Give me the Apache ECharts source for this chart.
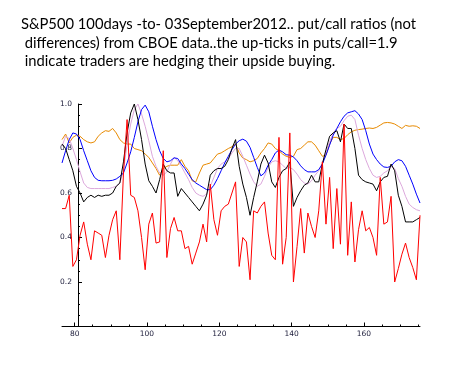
<!DOCTYPE html>
<html><head><meta charset="utf-8">
<script src="https://cdn.jsdelivr.net/npm/echarts@6/dist/echarts.min.js"></script>
<style>html,body{margin:0;padding:0;background:#fff}#c{width:453px;height:365px}</style>
</head><body><div id="c"></div>
<script>
const titleText = "S&P500 100days -to- 03September2012.. put/call ratios (not\n differences) from CBOE data..the up-ticks in puts/call=1.9\n indicate traders are hedging their upside buying.";
const firstDay = 76.5;
const lastDay = 175.5;
const xLabelDays = [80, 100, 120, 140, 160];
const xMinorDays = [85, 90, 95, 105, 110, 115, 125, 130, 135, 145, 150, 155, 165, 170, 175];

const red = [0.53,0.53,0.59,0.27,0.30,0.41,0.47,0.37,0.30,0.43,0.42,0.41,0.31,0.41,0.48,0.52,0.30,0.69,0.93,0.59,0.58,
  0.52,0.40,0.255,0.46,0.51,0.375,0.38,0.79,0.31,0.44,0.49,0.43,0.43,0.35,0.36,0.28,0.33,0.38,0.46,
  0.38,0.64,0.48,0.41,0.52,0.54,0.55,0.60,0.65,0.27,0.40,0.38,0.21,0.52,0.51,0.54,0.56,0.42,0.32,0.30,0.85,0.28,0.40,
  0.87,0.20,0.36,0.53,0.33,0.51,0.45,0.40,0.52,0.74,0.46,0.67,0.35,0.62,0.37,0.91,0.32,0.56,0.29,
  0.435,0.52,0.43,0.445,0.40,0.32,0.67,0.46,0.47,0.585,0.20,0.26,0.325,0.375,0.31,0.265,0.21,0.50];

const black = [0.82,0.80,0.75,0.70,0.63,0.60,0.56,0.58,0.59,0.58,0.59,0.585,0.59,0.59,0.60,0.63,0.645,0.74,0.87,0.96,
  1.0,0.93,0.84,0.73,0.655,0.63,0.60,0.66,0.73,0.70,0.69,0.69,0.585,0.62,0.60,0.58,0.56,0.54,0.52,0.55,
  0.59,0.68,0.70,0.71,0.71,0.72,0.75,0.80,0.84,0.72,0.64,0.58,0.50,0.58,0.65,0.73,0.77,0.735,0.65,0.625,
  0.67,0.70,0.71,0.74,0.54,0.58,0.61,0.635,0.645,0.68,0.65,0.65,0.73,0.795,0.855,0.87,0.88,0.83,0.91,0.89,
  0.89,0.80,0.68,0.66,0.65,0.645,0.64,0.61,0.65,0.67,0.675,0.73,0.70,0.59,0.54,0.47,0.47,0.47,0.48,0.49];

const pink = [0.81,0.855,0.845,0.80,0.75,0.695,0.645,0.625,0.62,0.62,0.62,0.62,0.62,0.62,0.625,0.63,0.645,0.70,0.82,0.91,
  0.975,1.0,0.955,0.90,0.835,0.765,0.72,0.69,0.68,0.695,0.73,0.76,0.745,0.72,0.69,0.66,0.625,0.60,0.59,0.585,
  0.595,0.63,0.67,0.71,0.73,0.74,0.755,0.78,0.80,0.80,0.765,0.725,0.685,0.65,0.63,0.64,0.675,0.715,0.74,0.745,
  0.74,0.725,0.71,0.715,0.705,0.685,0.66,0.645,0.64,0.655,0.68,0.70,0.735,0.785,0.83,0.87,0.89,0.90,0.925,0.945,
  0.95,0.93,0.86,0.80,0.75,0.71,0.68,0.67,0.675,0.69,0.70,0.72,0.71,0.665,0.63,0.585,0.55,0.535,0.525,0.52];

const blue = [0.735,0.79,0.84,0.87,0.865,0.84,0.79,0.745,0.70,0.67,0.657,0.655,0.655,0.655,0.657,0.663,0.675,0.69,0.735,0.785,
  0.85,0.92,0.975,0.995,0.965,0.90,0.84,0.79,0.755,0.74,0.745,0.758,0.755,0.73,0.71,0.685,0.66,0.645,0.635,0.625,
  0.615,0.615,0.635,0.665,0.70,0.735,0.765,0.795,0.82,0.835,0.842,0.833,0.805,0.76,0.715,0.677,0.69,0.725,0.75,0.78,
  0.793,0.785,0.772,0.77,0.762,0.745,0.722,0.705,0.695,0.695,0.695,0.705,0.73,0.77,0.815,0.86,0.89,0.92,0.945,0.96,
  0.965,0.97,0.955,0.93,0.88,0.82,0.775,0.75,0.73,0.717,0.715,0.72,0.74,0.75,0.745,0.72,0.68,0.64,0.595,0.555];

const orange = [0.84,0.865,0.825,0.85,0.86,0.855,0.84,0.83,0.825,0.83,0.855,0.87,0.88,0.877,0.89,0.87,0.84,0.825,0.82,0.82,
  0.80,0.795,0.79,0.775,0.76,0.735,0.71,0.68,0.71,0.72,0.725,0.725,0.725,0.75,0.72,0.70,0.655,0.65,0.69,0.725,
  0.73,0.735,0.755,0.775,0.78,0.79,0.80,0.808,0.82,0.78,0.757,0.75,0.74,0.745,0.755,0.78,0.80,0.825,0.82,0.80,
  0.79,0.775,0.765,0.76,0.765,0.795,0.80,0.815,0.83,0.83,0.815,0.79,0.765,0.77,0.82,0.85,0.85,0.84,0.845,0.862,
  0.875,0.882,0.885,0.887,0.89,0.892,0.89,0.895,0.905,0.915,0.917,0.915,0.91,0.90,0.89,0.904,0.90,0.902,0.90,0.89];

const days = red.map((_, i) => firstDay + i);
const pairs = arr => arr.map((v, i) => [days[i], v]);

const chart = echarts.init(document.getElementById('c'), null, {renderer: 'canvas'});
const labelFont = {fontFamily: 'DejaVu Sans', fontSize: 7.5, color: '#1c1c3a'};
const mk = (name, data, color) => ({
  name, type: 'line', data: pairs(data), showSymbol: false, symbol: 'none',
  xAxisIndex: 0, yAxisIndex: 0, silent: true,
  lineStyle: {color, width: 1}, z: 2
});
chart.setOption({
  animation: false,
  backgroundColor: '#fff',
  title: {
    text: titleText, left: 16, top: 10,
    textStyle: {fontFamily: 'Lato', fontSize: 14.75, fontWeight: 'normal', color: '#000', lineHeight: 18.5}
  },
  grid: [
    {left: 62, top: 104, width: 358, height: 222.5},
    {left: 78, top: 104, width: 10, height: 222.5}
  ],
  xAxis: [
    {type: 'value', gridIndex: 0, min: firstDay, max: lastDay, position: 'bottom',
     axisLine: {show: true, lineStyle: {color: '#000', width: 1}},
     axisTick: {show: true, inside: true, length: 4, customValues: xLabelDays, lineStyle: {color: '#000'}},
     axisLabel: Object.assign({show: true, customValues: xLabelDays, margin: 4}, labelFont),
     splitLine: {show: false}},
    {type: 'value', gridIndex: 0, min: firstDay, max: lastDay, position: 'bottom',
     axisLine: {show: false},
     axisTick: {show: true, inside: true, length: 2, customValues: xMinorDays, lineStyle: {color: '#000'}},
     axisLabel: {show: false}, splitLine: {show: false}},
    {type: 'value', gridIndex: 1, min: 0, max: 1, show: false}
  ],
  yAxis: [
    {type: 'value', gridIndex: 0, min: 0, max: 1, show: false},
    {type: 'value', gridIndex: 1, min: 0, max: 1, interval: 0.2, position: 'left',
     axisLine: {show: true, lineStyle: {color: '#000', width: 1}},
     axisTick: {show: true, inside: true, length: 4, lineStyle: {color: '#000'}},
     minorTick: {show: true, splitNumber: 4, length: 2, lineStyle: {color: '#000'}},
     axisLabel: Object.assign({show: true, margin: 6, showMinLabel: false, formatter: v => v.toFixed(1)}, labelFont),
     splitLine: {show: false}}
  ],
  series: [
    mk('orange', orange, '#e88a00'),
    mk('pink', pink, '#dca8dc'),
    mk('blue', blue, '#0000ff'),
    mk('black', black, '#000000'),
    mk('red', red, '#ff0000')
  ]
});
</script></body></html>
